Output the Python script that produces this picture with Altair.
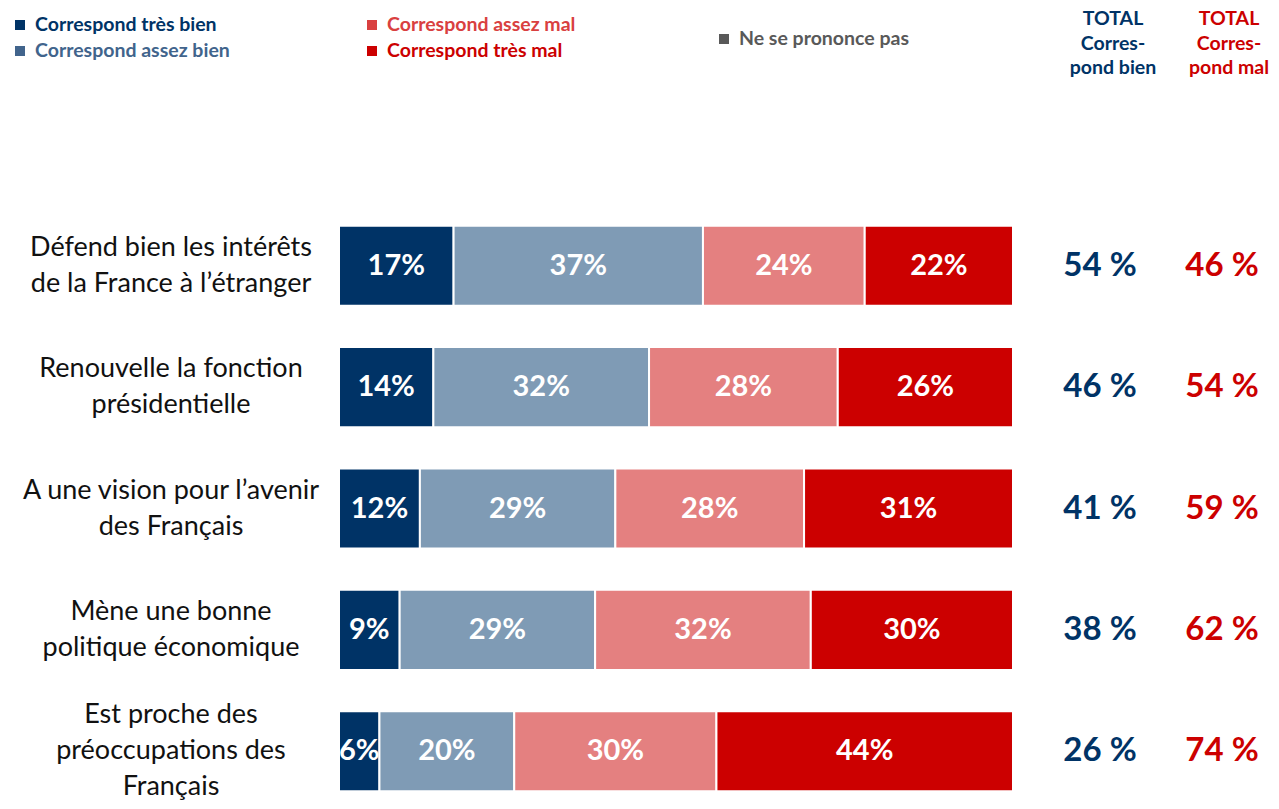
import altair as alt
import pandas as pd

categories = [
    "Défend bien les intérêts\nde la France à l’étranger",
    "Renouvelle la fonction\nprésidentielle",
    "A une vision pour l’avenir\ndes Français",
    "Mène une bonne\npolitique économique",
    "Est proche des\npréoccupations des\nFrançais",
]
segments = ["Correspond très bien", "Correspond assez bien", "Correspond assez mal", "Correspond très mal"]
tres_bien = [17, 14, 12, 9, 6]
assez_bien = [37, 32, 29, 29, 20]
assez_mal = [24, 28, 28, 32, 30]
tres_mal = [22, 26, 31, 30, 44]
total_bien = [54, 46, 41, 38, 26]
total_mal = [46, 54, 59, 62, 74]

bar_colors = ["#003366", "#7F9BB5", "#E48080", "#CC0000"]
legend_labels = ["Correspond très bien", "Correspond assez bien", "Correspond assez mal",
                 "Correspond très mal", "Ne se prononce pas"]
legend_colors = ["#003366", "#41648C", "#D94040", "#CC0000", "#595959"]

FONT = "Lato"
BLUE = "#003366"
RED = "#CC0000"
LH = 36

rows = []
series = [tres_bien, assez_bien, assez_mal, tres_mal]
for i, cat in enumerate(categories):
    start = 0
    for s, seg in enumerate(segments):
        v = series[s][i]
        rows.append({"cat": cat, "seg": seg, "value": v, "start": start, "end": start + v,
                     "mid": start + v / 2, "label": f"{v}%"})
        start += v
df = pd.DataFrame(rows)

tot = pd.DataFrame({"cat": categories,
                    "nlines": [c.count("\n") + 1 for c in categories],
                    "bien": [f"{v} %" for v in total_bien],
                    "mal": [f"{v} %" for v in total_mal]})

xscale = alt.Scale(domain=[0, 100], range=[331, 1005])
yscale = alt.Scale(domain=categories, range=[197, 804], paddingInner=0.34, paddingOuter=0.17)
ycat = alt.Y("cat:N", scale=yscale, axis=None, sort=categories)

bars = alt.Chart(df).mark_bar(stroke="white", strokeWidth=2).encode(
    x=alt.X("start:Q", scale=xscale, axis=None),
    x2="end:Q",
    y=ycat,
    color=alt.Color("seg:N", scale=alt.Scale(domain=segments, range=bar_colors), legend=None),
)

seg_labels = alt.Chart(df).mark_text(font=FONT, fontSize=29, fontWeight="bold", color="white",
                                     baseline="middle", align="center").encode(
    x=alt.X("mid:Q", scale=xscale, axis=None),
    y=ycat,
    text="label:N",
)

cat_layers = []
for n in sorted(tot["nlines"].unique()):
    cat_layers.append(
        alt.Chart(tot[tot["nlines"] == n]).mark_text(
            font=FONT, fontSize=27, color="#111111", align="center", baseline="middle",
            lineBreak="\n", lineHeight=LH, dy=-(int(n) - 1) * LH / 2).encode(
            x=alt.value(163), y=ycat, text="cat:N"))

tot_bien = alt.Chart(tot).mark_text(font=FONT, fontSize=33, fontWeight="bold", color=BLUE,
                                    align="center", baseline="middle").encode(
    x=alt.value(1092), y=ycat, text="bien:N")
tot_mal = alt.Chart(tot).mark_text(font=FONT, fontSize=33, fontWeight="bold", color=RED,
                                   align="center", baseline="middle").encode(
    x=alt.value(1214), y=ycat, text="mal:N")

hdr = pd.DataFrame({"b": ["TOTAL\nCorres-\npond bien"], "m": ["TOTAL\nCorres-\npond mal"]})
hdr_b = alt.Chart(hdr).mark_text(font=FONT, fontSize=19.5, fontWeight="bold", color=BLUE,
                                 align="center", baseline="top", lineBreak="\n",
                                 lineHeight=24.5).encode(x=alt.value(1105), y=alt.value(2), text="b:N")
hdr_m = alt.Chart(hdr).mark_text(font=FONT, fontSize=19.5, fontWeight="bold", color=RED,
                                 align="center", baseline="top", lineBreak="\n",
                                 lineHeight=24.5).encode(x=alt.value(1221), y=alt.value(2), text="m:N")

legend_pos = [(12, 17), (12, 43), (364, 17), (364, 43), (716, 31)]
legend_layers = []
for lab, col, (lx, ly) in zip(legend_labels, legend_colors, legend_pos):
    ldf = pd.DataFrame({"label": [lab]})
    legend_layers.append(
        alt.Chart(ldf).mark_square(size=100, color=col, opacity=1).encode(
            x=alt.value(lx), y=alt.value(ly)))
    legend_layers.append(
        alt.Chart(ldf).mark_text(font=FONT, fontSize=19.5, fontWeight="bold", color=col,
                                 align="left", baseline="middle").encode(
            x=alt.value(lx + 15), y=alt.value(ly), text="label:N"))

chart = alt.layer(bars, seg_labels, *cat_layers, tot_bien, tot_mal, hdr_b, hdr_m,
                  *legend_layers).properties(
    width=1263, height=793, padding=0,
    autosize=alt.AutoSizeParams(type="none"),
).configure_view(stroke=None)

chart.save("out.html", embed_options={"renderer": "svg", "actions": False})
